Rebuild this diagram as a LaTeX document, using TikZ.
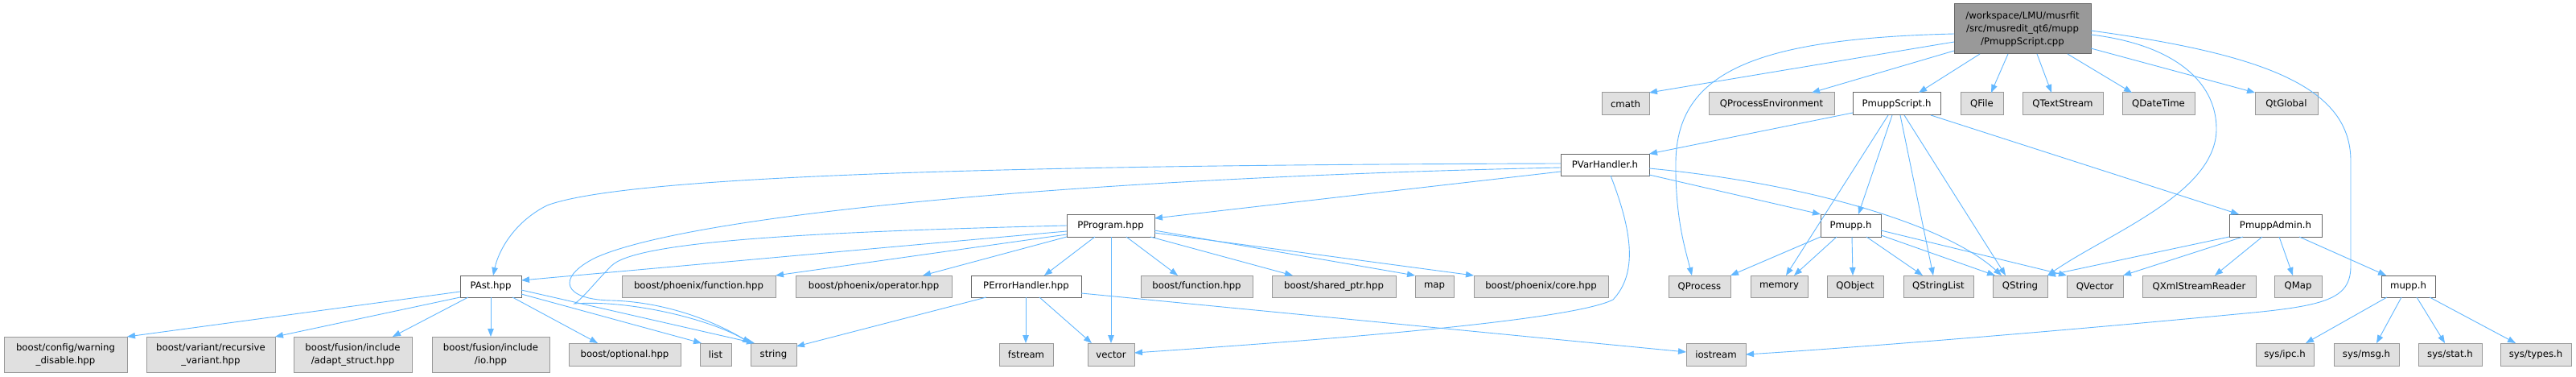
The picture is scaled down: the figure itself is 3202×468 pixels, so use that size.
\documentclass[tikz,border=0pt]{standalone}
\usepackage{fontspec}
\setmainfont{DejaVu Sans}
\usetikzlibrary{arrows.meta}
\definecolor{edgec}{HTML}{63B8FF}
\definecolor{mainfill}{HTML}{999999}
\definecolor{mainline}{HTML}{666666}
\definecolor{extfill}{HTML}{E0E0E0}
\definecolor{extline}{HTML}{999999}
\tikzset{
  boxbase/.style={rectangle, inner sep=0pt, outer sep=0pt, line width=1pt, align=center, font=\fontsize{11.7}{16}\selectfont},
  mainbox/.style={boxbase, fill=mainfill, draw=mainline},
  docbox/.style={boxbase, fill=white, draw=mainline},
  extbox/.style={boxbase, fill=extfill, draw=extline},
  edge/.style={draw=edgec, line width=0.9pt, -{Triangle[length=10pt,width=7.5pt]}}
}
\newcommand\mkbox[7]{\node[#1, minimum width={(#4-#3)*1pt}, minimum height={(#6-#5)*1pt}] (#2) at ({(#3+#4)/2},{(#5+#6)/2}) {#7};}
\begin{document}
\begin{tikzpicture}[x=1pt,y=-1pt]
\useasboundingbox[fill=white] (0,0) rectangle (3202,468);
% row 0
\mkbox{mainbox}{mainn}{2429}{2599}{5}{67}{/workspace/LMU/musrfit\\/src/musredit\_qt6/mupp\\/PmuppScript.cpp}
% row 1
\mkbox{extbox}{cmath}{1991}{2050}{115}{143}{cmath}
\mkbox{extbox}{qpe}{2124}{2280}{115}{143}{QProcessEnvironment}
\mkbox{docbox}{ps}{2303}{2412}{115}{143}{PmuppScript.h}
\mkbox{extbox}{qfile}{2437}{2490}{115}{143}{QFile}
\mkbox{extbox}{qts}{2514}{2614}{115}{143}{QTextStream}
\mkbox{extbox}{qdt}{2638}{2728}{115}{143}{QDateTime}
\mkbox{extbox}{qtg}{2803}{2881}{115}{143}{QtGlobal}
% row 2
\mkbox{docbox}{pvh}{1940}{2050}{191}{218}{PVarHandler.h}
% row 3
\mkbox{docbox}{pprog}{1326}{1435}{266}{294}{PProgram.hpp}
\mkbox{docbox}{pmupp}{2263}{2338}{266}{294}{Pmupp.h}
\mkbox{docbox}{padmin}{2771}{2886}{266}{294}{PmuppAdmin.h}
% row 4
\mkbox{docbox}{past}{572}{648}{342}{369}{PAst.hpp}
\mkbox{extbox}{bpf}{773}{964}{342}{369}{boost/phoenix/function.hpp}
\mkbox{extbox}{bpo}{989}{1183}{342}{369}{boost/phoenix/operator.hpp}
\mkbox{docbox}{perr}{1207}{1344}{342}{369}{PErrorHandler.hpp}
\mkbox{extbox}{bfun}{1418}{1557}{342}{369}{boost/function.hpp}
\mkbox{extbox}{bsp}{1581}{1735}{342}{369}{boost/shared\_ptr.hpp}
\mkbox{extbox}{map}{1759}{1807}{342}{369}{map}
\mkbox{extbox}{bpc}{1832}{1999}{342}{369}{boost/phoenix/core.hpp}
\mkbox{extbox}{qproc}{2074}{2151}{342}{369}{QProcess}
\mkbox{extbox}{memory}{2176}{2247}{342}{369}{memory}
\mkbox{extbox}{qobj}{2271}{2341}{342}{369}{QObject}
\mkbox{extbox}{qsl}{2366}{2453}{342}{369}{QStringList}
\mkbox{extbox}{qstr}{2477}{2545}{342}{369}{QString}
\mkbox{extbox}{qvec}{2569}{2639}{342}{369}{QVector}
\mkbox{extbox}{qxml}{2663}{2804}{342}{369}{QXmlStreamReader}
\mkbox{extbox}{qmap}{2827}{2886}{342}{369}{QMap}
\mkbox{docbox}{mupph}{2960}{3027}{342}{369}{mupp.h}
% row 5
\mkbox{extbox}{bcw}{5}{158}{418}{462}{boost/config/warning\\\_disable.hpp}
\mkbox{extbox}{bvr}{182}{342}{418}{462}{boost/variant/recursive\\\_variant.hpp}
\mkbox{extbox}{bfa}{365}{512}{418}{462}{boost/fusion/include\\/adapt\_struct.hpp}
\mkbox{extbox}{bfi}{537}{683}{418}{462}{boost/fusion/include\\/io.hpp}
\mkbox{extbox}{bopt}{707}{846}{426}{454}{boost/optional.hpp}
\mkbox{extbox}{list}{870}{909}{426}{454}{list}
\mkbox{extbox}{string}{933}{990}{426}{454}{string}
\mkbox{extbox}{fstream}{1242}{1309}{426}{454}{fstream}
\mkbox{extbox}{vector}{1352}{1410}{426}{454}{vector}
\mkbox{extbox}{iostream}{2096}{2170}{426}{454}{iostream}
\mkbox{extbox}{sipc}{2804}{2876}{426}{454}{sys/ipc.h}
\mkbox{extbox}{smsg}{2901}{2982}{426}{454}{sys/msg.h}
\mkbox{extbox}{sstat}{3006}{3085}{426}{454}{sys/stat.h}
\mkbox{extbox}{stypes}{3108}{3196}{426}{454}{sys/types.h}
% edges from main
\draw[edge] (mainn.west |- 0,52) -- (cmath.north east);
\draw[edge] (mainn.west |- 0,63) -- (qpe.north -| 2252,0);
\draw[edge] (mainn.south -| 2461,0) -- (ps.north -| 2385,0);
\draw[edge] (mainn.south -| 2496,0) -- (qfile.north -| 2475,0);
\draw[edge] (mainn.south -| 2532,0) -- (qts.north -| 2550,0);
\draw[edge] (mainn.south -| 2570,0) -- (qdt.north -| 2650,0);
\draw[edge] (mainn.east |- 0,60) -- (qtg.north west);
\draw[edge] (mainn.west |- 0,42) .. controls (2180,48) and (2085,90) .. (2083,200) .. controls (2082,270) and (2095,310) .. (qproc.north -| 2103,0);
\draw[edge] (mainn.east |- 0,43) .. controls (2700,55) and (2755,100) .. (2755,160) .. controls (2755,240) and (2620,290) .. (qstr.north east);
\draw[edge] (mainn.east |- 0,38) .. controls (2820,68) and (2922,110) .. (2922,200) -- (2922,330) .. controls (2922,372) and (2890,380) .. (2780,390) .. controls (2550,412) and (2300,432) .. (iostream.east |- 0,440);
% edges from PmuppScript.h
\draw[edge] (ps.west |- 0,140) -- (pvh.north east);
\draw[edge] (ps.south -| 2347,0) -- (memory.north -| 2220,0);
\draw[edge] (ps.south -| 2352,0) -- (pmupp.north -| 2310,0);
\draw[edge] (ps.south -| 2362,0) -- (qsl.north -| 2403,0);
\draw[edge] (ps.south -| 2367,0) -- (qstr.north -| 2493,0);
\draw[edge] (ps.south -| 2400,0) -- (padmin.north -| 2783,0);
% edges from PVarHandler.h
\draw[edge] (pvh.west |- 0,203) .. controls (1100,205) and (760,225) .. (680,255) .. controls (640,275) and (620,310) .. (past.north -| 613,0);
\draw[edge] (pvh.west |- 0,208) .. controls (1300,222) and (850,270) .. (740,320) .. controls (690,345) and (700,372) .. (760,373) .. controls (830,375) and (890,400) .. (string.north west);
\draw[edge] (pvh.west |- 0,213) -- (pprog.east |- 0,271);
\draw[edge] (pvh.east |- 0,217) -- (pmupp.north west);
\draw[edge] (pvh.east |- 0,209) .. controls (2250,228) and (2420,280) .. (qstr.north -| 2488,0);
\draw[edge] (pvh.south -| 2002,0) .. controls (2030,290) and (2035,340) .. (2005,372) .. controls (1950,400) and (1600,425) .. (vector.east |- 0,438);
% edges from PProgram.hpp
\draw[edge] (pprog.west |- 0,287) -- (past.east |- 0,348);
\draw[edge] (pprog.west |- 0,291) -- (bpf.north east);
\draw[edge] (pprog.south west) -- (bpo.north -| 1147,0);
\draw[edge] (pprog.south -| 1361,0) -- (perr.north -| 1298,0);
\draw[edge] (pprog.south -| 1381,0) -- (vector.north -| 1381,0);
\draw[edge] (pprog.south -| 1400,0) -- (bfun.north -| 1464,0);
\draw[edge] (pprog.south -| 1430,0) -- (bsp.north -| 1607,0);
\draw[edge] (pprog.east |- 0,286) -- (map.north west);
\draw[edge] (pprog.east |- 0,289) -- (bpc.north west);
\draw[edge] (pprog.west |- 0,280) .. controls (1000,288) and (790,300) .. (760,330) .. controls (740,350) and (725,370) .. (714,377) .. controls (780,372) and (880,395) .. (string.north west);
% edges from PErrorHandler.hpp
\draw[edge] (perr.south -| 1275,0) -- (fstream.north -| 1275,0);
\draw[edge] (perr.south -| 1292,0) -- (vector.north -| 1357,0);
\draw[edge] (perr.east |- 0,364) -- (iostream.west |- 0,437);
\draw[edge] (perr.south -| 1226,0) -- (string.east |- 0,430);
% edges from PAst.hpp
\draw[edge] (past.west |- 0,362) -- (bcw.north east);
\draw[edge] (past.south west) -- (bvr.north east);
\draw[edge] (past.south -| 582,0) -- (bfa.north -| 488,0);
\draw[edge] (past.south -| 610,0) -- (bfi.north -| 610,0);
\draw[edge] (past.south -| 637,0) -- (bopt.north -| 743,0);
\draw[edge] (past.east |- 0,365) -- (list.north -| 872,0);
\draw[edge] (past.east |- 0,360) -- (string.north -| 938,0);
% edges from Pmupp.h
\draw[edge] (pmupp.south west) -- (qproc.north east);
\draw[edge] (pmupp.south -| 2283,0) -- (memory.north -| 2230,0);
\draw[edge] (pmupp.south -| 2302,0) -- (qobj.north -| 2303,0);
\draw[edge] (pmupp.south -| 2320,0) -- (qsl.north -| 2390,0);
\draw[edge] (pmupp.east |- 0,292) -- (qstr.north -| 2480,0);
\draw[edge] (pmupp.east |- 0,286) -- (qvec.north west);
% edges from PmuppAdmin.h
\draw[edge] (padmin.south west) -- (qstr.north east);
\draw[edge] (padmin.south -| 2788,0) -- (qvec.north east);
\draw[edge] (padmin.south -| 2812,0) -- (qxml.north -| 2753,0);
\draw[edge] (padmin.south -| 2833,0) -- (qmap.north -| 2850,0);
\draw[edge] (padmin.south -| 2858,0) -- (mupph.north -| 2966,0);
% edges from mupp.h
\draw[edge] (mupph.south -| 2967,0) -- (sipc.north -| 2866,0);
\draw[edge] (mupph.south -| 2985,0) -- (smsg.north -| 2954,0);
\draw[edge] (mupph.south -| 3004,0) -- (sstat.north -| 3039,0);
\draw[edge] (mupph.south -| 3020,0) -- (stypes.north -| 3127,0);
\end{tikzpicture}
\end{document}
